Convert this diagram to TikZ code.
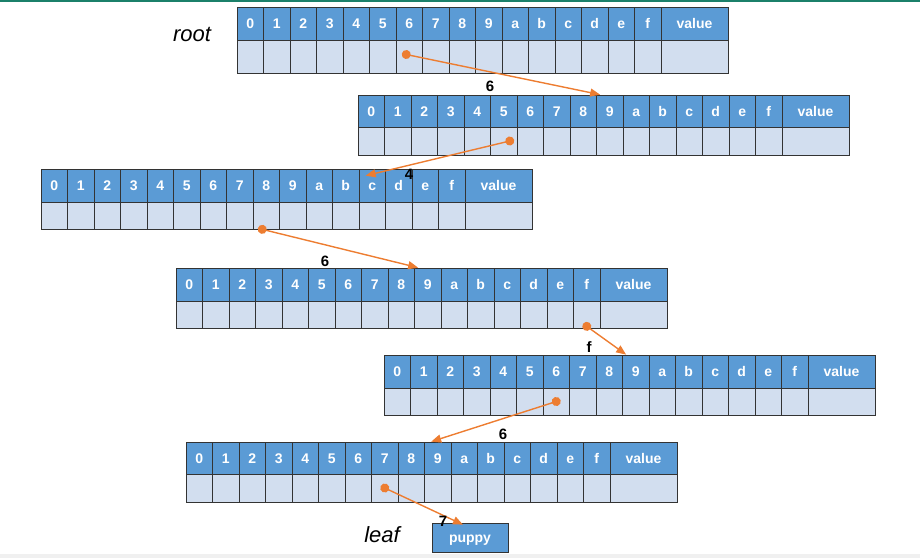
\documentclass[tikz,border=0pt]{standalone}
\usepackage{fontspec}
\setmainfont{Liberation Sans}
\usetikzlibrary{arrows.meta,calc}

\definecolor{hblue}{HTML}{5B9BD5}
\definecolor{lblue}{HTML}{D2DEEF}
\definecolor{orn}{HTML}{ED7D31}
\definecolor{topline}{HTML}{1B806A}

\tikzset{
  hcell/.style={draw=black!80, line width=0.7pt, fill=hblue, text=white,
    font=\fontsize{14}{14}\selectfont\bfseries, inner sep=0pt,
    text height=10pt, text depth=0pt, minimum width=26.5pt},
  lcell/.style={draw=black!80, line width=0.7pt, fill=lblue, inner sep=0pt,
    minimum width=26.5pt},
  ptr/.style={draw=orn, line width=1.4pt,
    {Circle[length=9pt]}-{Triangle[length=10pt,width=8pt]}, shorten <=-4.5pt},
  lbl/.style={font=\fontsize{15}{15}\selectfont\bfseries},
  tag/.style={font=\fontsize{22}{22}\selectfont\itshape}
}

% one trie node: name, left x, top y, header height, lower height
\newcommand{\trierow}[5]{
  \foreach \k [count=\i from 0] in {0,1,2,3,4,5,6,7,8,9,a,b,c,d,e,f} {
    \node[hcell, minimum height=#4pt] (#1-h\k) at ({#2+26.5*\i+13.25},{#3+#4/2}) {\k};
    \node[lcell, minimum height=#5pt] (#1-l\k) at ({#2+26.5*\i+13.25},{#3+#4+#5/2}) {};
  }
  \node[hcell, minimum width=67pt, minimum height=#4pt] (#1-hv) at ({#2+457.5},{#3+#4/2}) {value};
  \node[lcell, minimum width=67pt, minimum height=#5pt] (#1-lv) at ({#2+457.5},{#3+#4+#5/2}) {};
}

\begin{document}
\begin{tikzpicture}[x=1pt,y=-1pt]
  \useasboundingbox (0,0) rectangle (920,558);
  % frame lines of the page
  \fill[topline] (0,0) rectangle (920,2);
  \fill[black!6] (0,554) rectangle (920,558);

  % the six nodes along the key
  \trierow{t1}{237}{7}{33}{33}
  \trierow{t2}{358}{95}{32}{28}
  \trierow{t3}{41}{169}{33}{27}
  \trierow{t4}{176}{268}{33}{27}
  \trierow{t5}{384}{355}{33}{27}
  \trierow{t6}{186}{442}{32}{28}
  \node[hcell, minimum width=76pt, minimum height=29pt] (val) at (470,537.5) {puppy};

  \node[tag] (root) at (192,34) {root};
  \node[tag] (leaf) at (382,535) {leaf};

  % pointers
  \draw[ptr] ([xshift=-3pt,yshift=2pt]t1-l6.center) -- ([xshift=4pt]t2-h9.north west);
  \draw[ptr] ([xshift=6pt]t2-l5.center) -- ($(t3-hc.north west)+(7,7)$);
  \draw[ptr] ([xshift=-4pt]t3-l8.south) -- ([xshift=4pt]t4-h9.north west);
  \draw[ptr] ([yshift=2pt]t4-lf.south) -- ([xshift=4pt]t5-h9.north west);
  \draw[ptr] (t5-l6.center) -- ([xshift=7pt]t6-h9.north west);
  \draw[ptr] (t6-l7.center) -- ([xshift=-7pt,yshift=-2pt]val.north);

  % key chars
  \node[lbl] (k1) at (490,86) {6};
  \node[lbl] (k2) at (409,174) {4};
  \node[lbl] (k3) at (325,261) {6};
  \node[lbl] (k4) at (589,347) {f};
  \node[lbl] (k5) at (503,434) {6};
  \node[lbl] (k6) at (443,521) {7};
\end{tikzpicture}
\end{document}
